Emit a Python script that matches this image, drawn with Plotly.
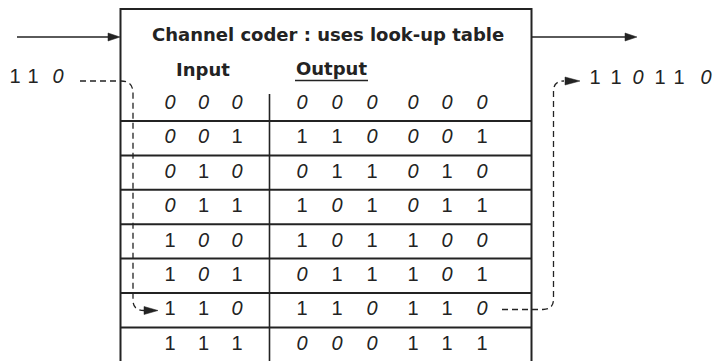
import plotly.graph_objects as go

# ---------------- data ----------------
title_text = "Channel coder : uses look-up table"
input_header = "Input"
output_header = "Output"
inputs = ["000", "001", "010", "011", "100", "101", "110", "111"]
outputs = ["000000", "110001", "011010", "101011", "101100", "011101", "110110", "000111"]
message = "110"
codeword = "110110"

# ---------------- layout constants (pixels) ----------------
W, H = 727, 361
INK = "#232323"
box_l, box_r, box_t = 120.5, 531.5, 9
row0_y, pitch = 104, 34.4
in_x = [170, 203.5, 237]
out_x = [302, 337, 372, 413, 447, 482]
div_x = 269.5
DIGIT_FONT = dict(family="Liberation Sans", size=20, color=INK)
HEAD_FONT = dict(family="DejaVu Sans", size=18, color=INK, weight="bold")


def fmt(d):
    return "<i>0</i>" if d == "0" else d


fig = go.Figure()

# table digits
xs, ys, ts = [], [], []
for r, (a, b) in enumerate(zip(inputs, outputs)):
    y = row0_y + r * pitch
    for c, d in enumerate(a):
        xs.append(in_x[c]); ys.append(y); ts.append(fmt(d))
    for c, d in enumerate(b):
        xs.append(out_x[c]); ys.append(y); ts.append(fmt(d))

# message and codeword
msg_x = [15, 33, 58]
for c, d in enumerate(message):
    xs.append(msg_x[c]); ys.append(78); ts.append(fmt(d))
cw_x = [595, 616, 638, 660, 679, 706]
for c, d in enumerate(codeword):
    xs.append(cw_x[c]); ys.append(79); ts.append(fmt(d))

fig.add_trace(go.Scatter(x=xs, y=ys, text=ts, mode="text", textposition="middle center",
                         textfont=DIGIT_FONT, hoverinfo="skip", showlegend=False))

shapes = []
# box
shapes.append(dict(type="path", path=f"M {box_l} {H+10} L {box_l} {box_t} L {box_r} {box_t} L {box_r} {H+10}",
                   line=dict(color=INK, width=2)))
# row lines
for k in range(1, len(inputs)):
    y = row0_y + 17 + (k - 1) * pitch
    shapes.append(dict(type="line", x0=box_l, x1=box_r, y0=y, y1=y, line=dict(color=INK, width=2)))
# divider
shapes.append(dict(type="line", x0=div_x, x1=div_x, y0=94, y1=H + 10, line=dict(color=INK, width=1.6)))
# Output underline
shapes.append(dict(type="line", x0=295, x1=368, y0=80.5, y1=80.5, line=dict(color=INK, width=1.3)))


def arrow_head(tx, ty, length=12, half=4):
    return dict(type="path", path=f"M {tx} {ty} L {tx-length} {ty-half} L {tx-length} {ty+half} Z",
                fillcolor=INK, line=dict(color=INK, width=0.5))


# solid arrows top
shapes.append(dict(type="line", x0=17, x1=110, y0=37, y1=37, line=dict(color=INK, width=1.3)))
shapes.append(arrow_head(120, 37))
shapes.append(dict(type="line", x0=532, x1=626, y0=37, y1=37, line=dict(color=INK, width=1.3)))
shapes.append(arrow_head(637, 37))

# dashed paths
DASH = "6px,4px"
shapes.append(dict(type="path",
                   path="M 80 81 L 121 81 Q 133 81 133 93 L 133 300 Q 133 310.5 144 310.5",
                   line=dict(color=INK, width=1.3, dash=DASH)))
shapes.append(arrow_head(158, 310.5, length=14, half=4))
shapes.append(dict(type="path",
                   path="M 502 309.5 L 543 309.5 Q 553.5 309.5 553.5 299 L 553.5 91 Q 553.5 81 564 81",
                   line=dict(color=INK, width=1.3, dash=DASH)))
shapes.append(arrow_head(580, 81, length=15, half=4))

annotations = [
    dict(x=327.5, y=34, text=title_text, showarrow=False, xanchor="center", yanchor="middle",
         font=HEAD_FONT),
    dict(x=203, y=69, text=input_header, showarrow=False, xanchor="center", yanchor="middle",
         font=HEAD_FONT),
    dict(x=331.5, y=68, text=output_header, showarrow=False, xanchor="center", yanchor="middle",
         font=HEAD_FONT),
]

fig.update_layout(
    width=W, height=H, margin=dict(l=0, r=0, t=0, b=0),
    paper_bgcolor="white", plot_bgcolor="white",
    xaxis=dict(range=[0, W], visible=False, fixedrange=True),
    yaxis=dict(range=[H, 0], visible=False, fixedrange=True),
    shapes=shapes, annotations=annotations, showlegend=False,
)
fig.write_html("out.html", config={"displayModeBar": False},
               post_script="document.body.style.margin='0';document.body.style.overflow='hidden';")
